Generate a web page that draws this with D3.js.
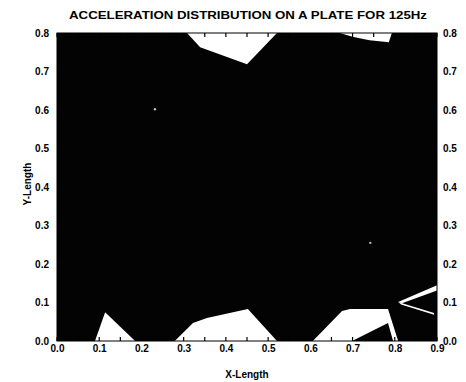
<!DOCTYPE html>
<html>
<head>
<meta charset="utf-8">
<script src="https://cdn.jsdelivr.net/npm/d3@7"></script>
<style>
  body { margin: 0; background: #fff; }
  svg { display: block; }
  text { font-family: "Liberation Sans", Arial, sans-serif; font-weight: bold; fill: #000; }
</style>
</head>
<body>
<div id="chart"></div>
<script>
// axis ticks
const xTickValues = [0, 0.1, 0.2, 0.3, 0.4, 0.5, 0.6, 0.7, 0.8, 0.9];
const yTickValues = [0, 0.1, 0.2, 0.3, 0.4, 0.5, 0.6, 0.7, 0.8];
const xTickLabels = ["0.0", "0.1", "0.2", "0.3", "0.4", "0.5", "0.6", "0.7", "0.8", "0.9"];
const yTickLabels = ["0.0", "0.1", "0.2", "0.3", "0.4", "0.5", "0.6", "0.7", "0.8"];
const minorTicks = d3.range(0, 0.901, 0.05);

// low-acceleration (white) contour regions on the black field, [x, y]
const topNotch = [[0.308, 0.8], [0.339, 0.763], [0.45, 0.719], [0.521, 0.8]];
const topRightSliver = [[0.67, 0.8], [0.793, 0.8], [0.786, 0.776], [0.74, 0.781], [0.70, 0.79]];
const bottomLeftPatch = [[0.09, 0], [0.114, 0.075], [0.185, 0]];
const bottomMidPatch = [[0.279, 0], [0.322, 0.047], [0.355, 0.06], [0.452, 0.083], [0.521, 0]];
const bottomRightPatch = [[0.606, 0], [0.675, 0.078], [0.694, 0.083], [0.784, 0.083], [0.808, 0],
                          [0.796, 0], [0.784, 0.047], [0.699, 0]];
const rightVUpper = [[0.808, 0.101], [0.9, 0.145], [0.9, 0.131], [0.817, 0.098]];
const rightVLower = [[0.808, 0.101], [0.893, 0.073], [0.893, 0.068], [0.815, 0.095]];
const specks = [[0.232, 0.602], [0.742, 0.255]];

const regions = [topNotch, topRightSliver, bottomLeftPatch, bottomMidPatch, bottomRightPatch, rightVUpper, rightVLower];

const WIDTH = 466, HEIGHT = 382;
const MARGINS = { left: 57, right: 29, top: 33, bottom: 41 };
const plotW = WIDTH - MARGINS.left - MARGINS.right;
const plotH = HEIGHT - MARGINS.top - MARGINS.bottom;

const svg = d3.select("#chart").append("svg")
    .attr("width", WIDTH)
    .attr("height", HEIGHT);

const xScale = d3.scaleLinear().domain([0, 0.9]).range([0, plotW]);
const yScale = d3.scaleLinear().domain([0, 0.8]).range([plotH, 0]);

const g = svg.append("g")
    .attr("transform", "translate(" + MARGINS.left + "," + MARGINS.top + ")");

// black field
g.append("rect")
    .attr("x", xScale(0)).attr("y", yScale(0.8))
    .attr("width", xScale(0.9) - xScale(0))
    .attr("height", yScale(0) - yScale(0.8))
    .attr("fill", "#030303");

const area = d3.line()
    .x(d => xScale(d[0]))
    .y(d => yScale(d[1]));

g.selectAll(".region")
    .data(regions)
    .enter().append("path")
    .attr("class", "region")
    .attr("d", d => area(d) + "Z")
    .attr("fill", "#fff");

g.selectAll(".speck")
    .data(specks)
    .enter().append("circle")
    .attr("cx", d => xScale(d[0]))
    .attr("cy", d => yScale(d[1]))
    .attr("r", 1.2)
    .attr("fill", "#bbb");

// inward minor ticks on top and bottom edges
g.selectAll(".tickB")
    .data(minorTicks)
    .enter().append("line")
    .attr("x1", d => xScale(d)).attr("x2", d => xScale(d))
    .attr("y1", yScale(0)).attr("y2", yScale(0) - 4)
    .attr("stroke", "#000").attr("stroke-width", 1.2);
g.selectAll(".tickT")
    .data(minorTicks)
    .enter().append("line")
    .attr("x1", d => xScale(d)).attr("x2", d => xScale(d))
    .attr("y1", yScale(0.8)).attr("y2", yScale(0.8) + 4)
    .attr("stroke", "#000").attr("stroke-width", 1.2);

// frame
g.append("rect")
    .attr("x", 0).attr("y", 0)
    .attr("width", plotW).attr("height", plotH)
    .attr("fill", "none").attr("stroke", "#000").attr("stroke-width", 1);

// axes
const fontSize = "10px";
const xAxis = g.append("g")
    .attr("transform", "translate(0," + plotH + ")")
    .call(d3.axisBottom(xScale).tickValues(xTickValues).tickSize(0).tickPadding(4)
        .tickFormat((d, i) => xTickLabels[i]));
const yAxisL = g.append("g")
    .call(d3.axisLeft(yScale).tickValues(yTickValues).tickSize(0).tickPadding(8)
        .tickFormat((d, i) => yTickLabels[i]));
const yAxisR = g.append("g")
    .attr("transform", "translate(" + plotW + ",0)")
    .call(d3.axisRight(yScale).tickValues(yTickValues).tickSize(0).tickPadding(6)
        .tickFormat((d, i) => yTickLabels[i]));

[xAxis, yAxisL, yAxisR].forEach(a => {
    a.select(".domain").remove();
    a.selectAll("text")
        .style("font-family", "'Liberation Sans', Arial, sans-serif")
        .style("font-weight", "bold")
        .style("font-size", fontSize);
});

// title and axis labels
svg.append("text")
    .attr("x", 248).attr("y", 19)
    .attr("text-anchor", "middle")
    .attr("textLength", 358)
    .attr("lengthAdjust", "spacingAndGlyphs")
    .style("font-size", "10.5px")
    .text("ACCELERATION DISTRIBUTION ON A PLATE FOR 125Hz");

svg.append("text")
    .attr("x", MARGINS.left + plotW / 2).attr("y", 378)
    .attr("text-anchor", "middle")
    .style("font-size", "10px")
    .text("X-Length");

svg.append("text")
    .attr("transform", "translate(31," + (MARGINS.top + plotH / 2 - 3) + ") rotate(-90)")
    .attr("text-anchor", "middle")
    .style("font-size", "10px")
    .text("Y-Length");
</script>
</body>
</html>
